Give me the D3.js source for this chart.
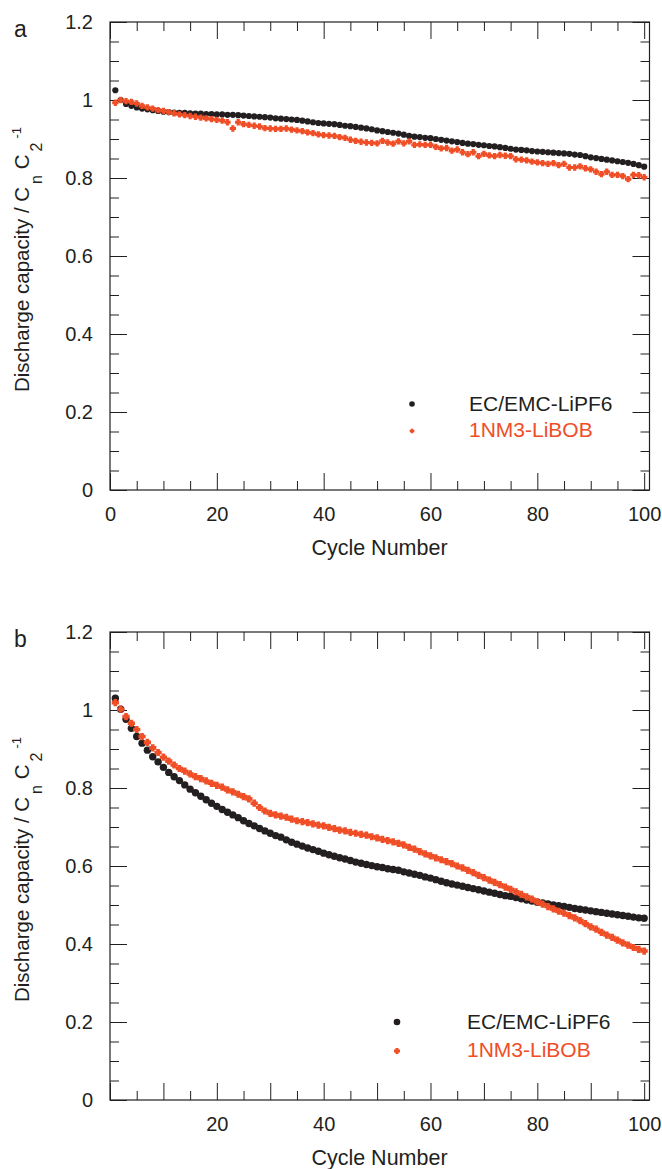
<!DOCTYPE html>
<html>
<head>
<meta charset="utf-8">
<script src="https://cdn.jsdelivr.net/npm/d3@7"></script>
<style>
  html, body { margin: 0; padding: 0; background: #fff; }
  svg { display: block; }
  text { font-family: "Liberation Sans", Arial, Helvetica, sans-serif; fill: #231f20; }
</style>
</head>
<body>
<svg id="chart" width="662" height="1169"></svg>
<script>
// ---------------- DATA ----------------
const cycles = d3.range(1, 101);
const seriesNames = ["EC/EMC-LiPF6", "1NM3-LiBOB"];

const aEcEmc = [
1.025,1.000,0.990,0.985,0.981,0.978,0.976,0.974,0.972,0.970,
0.969,0.968,0.967,0.967,0.966,0.965,0.965,0.964,0.964,0.963,
0.963,0.962,0.962,0.961,0.960,0.959,0.958,0.957,0.956,0.955,
0.953,0.952,0.951,0.950,0.949,0.947,0.945,0.943,0.941,0.940,
0.939,0.938,0.936,0.934,0.933,0.931,0.929,0.927,0.925,0.922,
0.920,0.918,0.916,0.914,0.911,0.908,0.906,0.905,0.903,0.902,
0.900,0.898,0.896,0.894,0.892,0.890,0.888,0.887,0.885,0.884,
0.882,0.881,0.879,0.877,0.875,0.873,0.872,0.871,0.869,0.868,
0.867,0.866,0.865,0.864,0.863,0.862,0.860,0.859,0.856,0.853,
0.851,0.849,0.847,0.845,0.843,0.841,0.839,0.836,0.833,0.829];

const aNM3 = [
0.993,1.000,0.997,0.995,0.991,0.985,0.981,0.978,0.974,0.972,
0.969,0.966,0.963,0.961,0.959,0.957,0.955,0.953,0.951,0.949,
0.947,0.943,0.927,0.943,0.938,0.936,0.934,0.932,0.928,0.927,
0.926,0.926,0.927,0.924,0.922,0.920,0.917,0.915,0.912,0.910,
0.909,0.908,0.905,0.903,0.898,0.895,0.893,0.891,0.890,0.889,
0.895,0.891,0.888,0.894,0.889,0.894,0.885,0.886,0.885,0.885,
0.880,0.876,0.877,0.870,0.873,0.866,0.861,0.866,0.856,0.862,
0.858,0.856,0.859,0.857,0.856,0.848,0.847,0.845,0.842,0.840,
0.838,0.836,0.838,0.833,0.836,0.827,0.827,0.830,0.825,0.822,
0.816,0.810,0.816,0.808,0.808,0.805,0.797,0.808,0.807,0.802];

const bEcEmc = [
1.030,1.002,0.976,0.953,0.932,0.915,0.897,0.880,0.867,0.853,
0.840,0.829,0.819,0.808,0.797,0.788,0.779,0.770,0.761,0.753,
0.745,0.738,0.731,0.724,0.716,0.709,0.703,0.696,0.690,0.684,
0.678,0.674,0.667,0.661,0.656,0.651,0.646,0.642,0.638,0.633,
0.629,0.625,0.621,0.618,0.614,0.610,0.607,0.604,0.601,0.598,
0.596,0.593,0.591,0.589,0.585,0.582,0.579,0.576,0.572,0.569,
0.565,0.561,0.557,0.554,0.551,0.548,0.545,0.542,0.539,0.536,
0.533,0.530,0.527,0.524,0.522,0.519,0.516,0.513,0.510,0.507,
0.505,0.503,0.500,0.498,0.496,0.494,0.491,0.489,0.487,0.485,
0.483,0.481,0.479,0.477,0.475,0.473,0.471,0.469,0.467,0.466];

const bNM3 = [
1.019,1.002,0.983,0.966,0.950,0.932,0.917,0.903,0.891,0.879,
0.869,0.859,0.850,0.843,0.836,0.829,0.824,0.818,0.812,0.807,
0.802,0.795,0.790,0.784,0.778,0.772,0.761,0.750,0.741,0.735,
0.731,0.728,0.725,0.720,0.716,0.714,0.711,0.708,0.705,0.703,
0.699,0.696,0.692,0.690,0.686,0.684,0.681,0.679,0.675,0.672,
0.668,0.665,0.662,0.658,0.654,0.648,0.643,0.637,0.631,0.626,
0.621,0.616,0.611,0.606,0.600,0.595,0.589,0.583,0.576,0.570,
0.564,0.558,0.552,0.546,0.540,0.534,0.527,0.521,0.515,0.508,
0.502,0.496,0.490,0.484,0.479,0.473,0.467,0.460,0.452,0.444,
0.438,0.430,0.423,0.417,0.410,0.403,0.397,0.391,0.386,0.382];

const yTickLabels = ["0", "0.2", "0.4", "0.6", "0.8", "1", "1.2"];
const yTickValues = [0, 0.2, 0.4, 0.6, 0.8, 1.0, 1.2];
const aXLabels = [0, 20, 40, 60, 80, 100];
const bXLabels = [20, 40, 60, 80, 100];

// ---------------- STYLE ----------------
const INK = "#231f20";
const RED = "#ef4e27";
const svg = d3.select("#chart");

// thick plus-shaped marker (custom d3 symbol type)
const fatCross = {
  draw(ctx, size) {
    const h = Math.sqrt(size) / 2, a = h * 0.5;
    ctx.moveTo(-a, -h); ctx.lineTo(a, -h); ctx.lineTo(a, -a); ctx.lineTo(h, -a);
    ctx.lineTo(h, a); ctx.lineTo(a, a); ctx.lineTo(a, h); ctx.lineTo(-a, h);
    ctx.lineTo(-a, a); ctx.lineTo(-h, a); ctx.lineTo(-h, -a); ctx.lineTo(-a, -a);
    ctx.closePath();
  }
};

function drawPanel(opt) {
  const g = svg.append("g");
  const x = d3.scaleLinear().domain([0, 101]).range([110, 649.5]);
  const y = d3.scaleLinear().domain([0, 1.2]).range([opt.bottom, opt.bottom - 468]);
  const L = 17, S = 9;

  const yMajor = yTickValues;
  const yMinor = d3.range(0, 25).map(i => i * 0.05).filter(v => !yMajor.some(m => Math.abs(m - v) < 1e-6));
  const xMinor = d3.range(0, 21).map(i => i * 5).filter(v => !opt.xLong.includes(v));

  const mk = (axisFn, scale, vals, size) =>
    axisFn(scale).tickValues(vals).tickSize(size).tickSizeOuter(0).tickFormat("");

  const sides = [
    {fn: d3.axisBottom, sc: x, t: `translate(0,${opt.bottom})`, long: opt.xLong, short: xMinor},
    {fn: d3.axisTop, sc: x, t: `translate(0,${opt.bottom - 468})`, long: opt.xLong, short: xMinor},
    {fn: d3.axisLeft, sc: y, t: `translate(110,0)`, long: yMajor, short: yMinor},
    {fn: d3.axisRight, sc: y, t: `translate(649.5,0)`, long: yMajor, short: yMinor}
  ];
  sides.forEach(sd => {
    [[sd.long, L], [sd.short, S]].forEach(([vals, sz]) => {
      const ax = g.append("g").attr("transform", sd.t).call(mk(sd.fn, sd.sc, vals, -sz));
      ax.select(".domain").remove();
      ax.selectAll("line").attr("stroke", INK).attr("stroke-width", 1);
    });
  });

  // frame
  g.append("rect")
    .attr("x", 110).attr("y", opt.bottom - 468)
    .attr("width", 539.5).attr("height", 468)
    .attr("fill", "none").attr("stroke", INK).attr("stroke-width", 1.2);

  // tick labels
  const xl = g.append("g").attr("transform", `translate(0,${opt.bottom})`)
    .call(d3.axisBottom(x).tickValues(opt.xLabels).tickSize(0).tickPadding(17).tickFormat(d3.format("d")));
  xl.select(".domain").remove();
  xl.selectAll("text").attr("font-size", 20).attr("font-family", null).style("fill", INK);

  const yl = g.append("g").attr("transform", `translate(110,0)`)
    .call(d3.axisLeft(y).tickValues(yTickValues).tickSize(0).tickPadding(17)
      .tickFormat((d, i) => yTickLabels[i]));
  yl.select(".domain").remove();
  yl.selectAll("text").attr("font-size", 20).attr("font-family", null).style("fill", INK);

  // axis titles
  g.append("text")
    .attr("x", 379.5).attr("y", opt.bottom + 65)
    .attr("text-anchor", "middle").attr("font-size", 21.5)
    .text("Cycle Number");

  const yt = g.append("text")
    .attr("transform", `translate(29,${opt.bottom - 98}) rotate(-90)`)
    .attr("text-anchor", "start").attr("font-size", 20.5);
  yt.append("tspan").text("Discharge capacity / C");
  yt.append("tspan").attr("font-size", 16).attr("dy", 13).attr("dx", 3).text("n");
  yt.append("tspan").attr("dy", -13).text(" C");
  yt.append("tspan").attr("font-size", 16).attr("dy", 13).attr("dx", 3).text("2");
  yt.append("tspan").attr("font-size", 13).attr("dy", -21).attr("dx", 4).text("-1");

  // panel letter
  g.append("text")
    .attr("x", 14).attr("y", opt.bottom - 453)
    .attr("font-size", 23).text(opt.letter);

  // data
  const dataBlack = cycles.map((c, i) => ({c, v: opt.black[i]}));
  const dataRed = cycles.map((c, i) => ({c, v: opt.red[i]}));

  g.append("g").selectAll("circle").data(dataBlack).join("circle")
    .attr("cx", d => x(d.c)).attr("cy", d => y(d.v))
    .attr("r", opt.r).attr("fill", INK);

  const cross = d3.symbol().type(fatCross).size(opt.crossSize);
  g.append("g").selectAll("path").data(dataRed).join("path")
    .attr("transform", d => `translate(${x(d.c)},${y(d.v)})`)
    .attr("d", cross).attr("fill", RED);

  // legend
  const lg = g.append("g");
  lg.append("circle").attr("cx", opt.leg.dotX).attr("cy", opt.leg.y1)
    .attr("r", opt.leg.r).attr("fill", INK);
  lg.append("text").attr("x", opt.leg.textX).attr("y", opt.leg.y1 + 7)
    .attr("font-size", 21).text(seriesNames[0]);
  lg.append("path").attr("transform", `translate(${opt.leg.dotX},${opt.leg.y2})`)
    .attr("d", d3.symbol().type(fatCross).size(opt.leg.cs)).attr("fill", RED);
  lg.append("text").attr("x", opt.leg.textX).attr("y", opt.leg.y2 + 6)
    .attr("font-size", 21).style("fill", RED).text(seriesNames[1]);
}

drawPanel({
  bottom: 490, letter: "a", xLong: [0, 20, 40, 60, 80, 100], xLabels: aXLabels,
  black: aEcEmc, red: aNM3, r: 3.1, crossSize: 40,
  leg: {dotX: 412, textX: 469, y1: 404, y2: 431, r: 2.8, cs: 22}
});

drawPanel({
  bottom: 1100, letter: "b", xLong: [0, 10, 20, 30, 40, 50, 60, 70, 80, 90, 100], xLabels: bXLabels,
  black: bEcEmc, red: bNM3, r: 3.7, crossSize: 52,
  leg: {dotX: 397, textX: 467, y1: 1022, y2: 1051, r: 3.3, cs: 36}
});
</script>
</body>
</html>
